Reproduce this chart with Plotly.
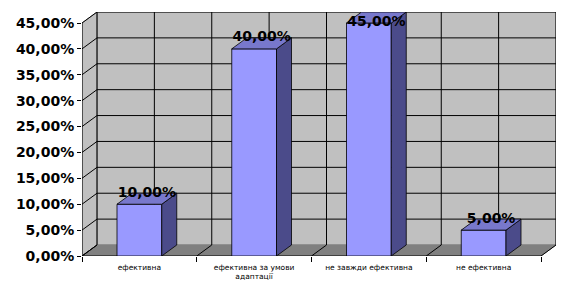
import plotly.graph_objects as go

# ---- data ----
categories = ["ефективна", "ефективна за умови<br>адаптації", "не завжди ефективна", "не ефективна"]
values = [10.0, 40.0, 45.0, 5.0]
y_ticks = [0, 5, 10, 15, 20, 25, 30, 35, 40, 45]
y_tick_labels = ["0,00%", "5,00%", "10,00%", "15,00%", "20,00%", "25,00%", "30,00%", "35,00%", "40,00%", "45,00%"]

# ---- geometry / style ----
W, H = 568, 301
ML, MR, MT, MB = 82, 12, 12, 45
DX_PX, DY_PX = 15, 11
n = len(categories)
ymax = y_ticks[-1]
pw = W - ML - MR
ph = H - MT - MB
ux = (pw - DX_PX) / n
uy = (ph - DY_PX) / ymax
dxu = DX_PX / ux
dyu = DY_PX / uy
bw = 0.39

WALL = "#C0C0C0"
FLOOR = "#808080"
FRONT = "#9999FF"
TOP = "#7878CC"
SIDE = "#4B4B8A"
FONT = "DejaVu Sans"

shapes = []
def path(pts):
    return "M " + " L ".join(f"{x},{y}" for x, y in pts) + " Z"

# back wall
shapes.append(dict(type="path", path=path([(dxu, dyu), (n + dxu, dyu), (n + dxu, ymax + dyu), (dxu, ymax + dyu)]),
                   fillcolor=WALL, line=dict(color="#808080", width=1), layer="below"))
# left wall
shapes.append(dict(type="path", path=path([(0, 0), (dxu, dyu), (dxu, ymax + dyu), (0, ymax)]),
                   fillcolor=WALL, line=dict(color="#808080", width=1), layer="below"))
# floor
shapes.append(dict(type="path", path=path([(0, 0), (n, 0), (n + dxu, dyu), (dxu, dyu)]),
                   fillcolor=FLOOR, line=dict(color="#808080", width=1), layer="below"))
# horizontal gridlines + left wall diagonals
for t in y_ticks[1:]:
    shapes.append(dict(type="line", x0=dxu, x1=n + dxu, y0=t + dyu, y1=t + dyu,
                       line=dict(color="black", width=1), layer="below"))
for t in y_ticks:
    shapes.append(dict(type="line", x0=0, x1=dxu, y0=t, y1=t + dyu,
                       line=dict(color="black", width=1), layer="below"))
# vertical gridlines on back wall
for k in range(2 * n + 1):
    xv = k * 0.5 + dxu
    shapes.append(dict(type="line", x0=xv, x1=xv, y0=dyu, y1=ymax + dyu,
                       line=dict(color="black", width=1), layer="below"))
# floor diagonals at category boundaries
for k in range(n + 1):
    shapes.append(dict(type="line", x0=k, x1=k + dxu, y0=0, y1=dyu,
                       line=dict(color="black", width=1), layer="below"))
# axis lines
shapes.append(dict(type="line", x0=0, x1=0, y0=0, y1=ymax, line=dict(color="black", width=1), layer="below"))
shapes.append(dict(type="line", x0=0, x1=n, y0=0, y1=0, line=dict(color="black", width=1), layer="below"))

fig = go.Figure()
xc = [i + 0.5 for i in range(n)]
fig.add_trace(go.Bar(x=xc, y=values, width=bw, marker=dict(color=FRONT, line=dict(color="black", width=0.8)),
                     hoverinfo="skip"))

sx, sy, tx, ty = [], [], [], []
for c, v in zip(xc, values):
    r = c + bw / 2
    l = c - bw / 2
    sx += [r, r + dxu, r + dxu, r, r, None]
    sy += [0, dyu, v + dyu, v, 0, None]
    tx += [l, r, r + dxu, l + dxu, l, None]
    ty += [v, v, v + dyu, v + dyu, v, None]
fig.add_trace(go.Scatter(x=sx, y=sy, mode="lines", fill="toself", fillcolor=SIDE,
                         line=dict(color="black", width=0.8), hoverinfo="skip"))
fig.add_trace(go.Scatter(x=tx, y=ty, mode="lines", fill="toself", fillcolor=TOP,
                         line=dict(color="black", width=0.8), hoverinfo="skip"))

lab_x = [c + dxu / 2 for c in xc]
lab_y = [min(v + 11 / uy, ymax + 1 / uy) for v in values]
lab_t = [f"{v:.2f}".replace(".", ",") + "%" for v in values]
fig.add_trace(go.Scatter(x=lab_x, y=lab_y, mode="text", text=lab_t, textposition="middle center",
                         textfont=dict(family=FONT, size=14, color="black", weight="bold"),
                         hoverinfo="skip", cliponaxis=False))

fig.update_layout(
    width=W, height=H, margin=dict(l=ML, r=MR, t=MT, b=MB),
    paper_bgcolor="white", plot_bgcolor="white", showlegend=False,
    shapes=shapes,
    xaxis=dict(range=[0, n + dxu], showgrid=False, zeroline=False, showline=False,
               tickvals=xc, ticktext=categories, ticks="", ticklabelstandoff=5,
               tickfont=dict(family=FONT, size=7.5, color="black"),
               minor=dict(tickvals=list(range(n + 1)), ticks="outside", ticklen=5, tickcolor="black", showgrid=False)),
    yaxis=dict(range=[0, ymax + dyu], showgrid=False, zeroline=False, showline=False,
               tickvals=y_ticks, ticktext=y_tick_labels, ticks="outside", ticklen=4, tickcolor="black",
               tickfont=dict(family=FONT, size=14, color="black", weight="bold")),
)
fig.write_html("out.html")
